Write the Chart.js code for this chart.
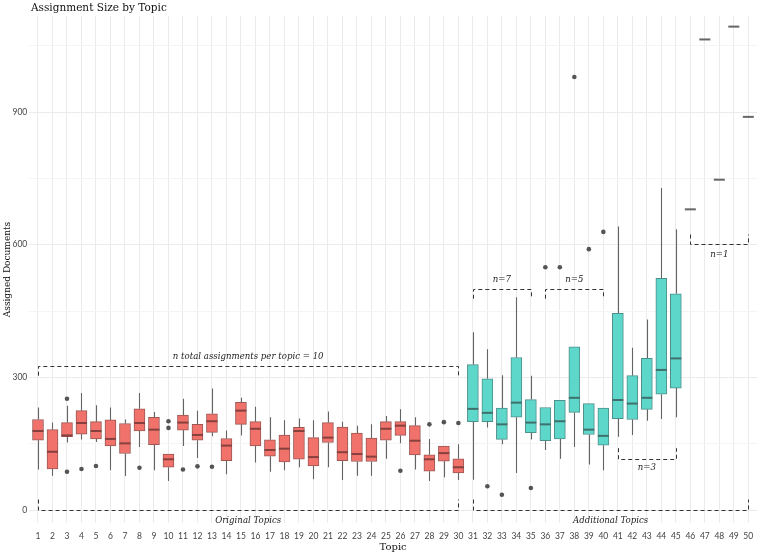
<!DOCTYPE html>
<html>
<head>
<meta charset="utf-8">
<script src="https://cdn.jsdelivr.net/npm/chart.js@4.4.0/dist/chart.umd.min.js"></script>
<style>
  html, body { margin:0; padding:0; background:#fff; }
  #wrap { width:761px; height:552px; position:relative; }
</style>
</head>
<body>
<div id="wrap"><canvas id="chart"></canvas></div>
<script>
// one entry per topic
const topics = [1,2,3,4,5,6,7,8,9,10,11,12,13,14,15,16,17,18,19,20,21,22,23,24,25,
  26,27,28,29,30,31,32,33,34,35,36,37,38,39,40,41,42,43,44,45,46,47,48,49,50]
const lowWhisker = [92,78,153,160,154,90,77,143,90,66,145,118,167,81,169,108,87,90,97,70,
  97,68,78,78,116,151,92,66,74,68,69,187,149,84,160,136,116,143,103,90,166,170,202,206,210,
  680,1064,747,1093,889]
const q1 = [158,93,166,172,161,145,128,179,148,97,181,158,176,112,194,145,122,109,115,100,
  153,112,110,110,158,169,125,88,111,84,200,200,160,210,175,157,161,221,171,147,207,205,228,262,276,
  680,1064,747,1093,889]
const median = [179,132,169,197,179,161,151,197,182,115,198,170,201,146,225,184,136,139,179,120,
  164,131,127,121,184,191,157,115,129,97,229,220,194,243,198,194,201,254,182,168,249,241,254,317,343,
  680,1064,747,1093,889]
const q3 = [205,182,198,225,200,204,196,229,210,127,215,194,218,162,244,200,159,170,187,164,
  198,188,174,163,200,200,191,125,145,116,329,297,231,345,250,232,248,369,241,231,445,304,343,524,489,
  680,1064,747,1093,889]
const highWhisker = [232,198,236,265,237,232,205,265,222,127,252,225,275,180,254,234,210,203,207,203,
  223,200,191,194,213,228,210,161,145,149,402,364,305,481,304,232,248,369,241,231,641,367,431,728,635,
  680,1064,747,1093,889]
const outlierTopic = [3,3,4,5,8,10,10,11,12,13,26,28,29,30,32,33,35,36,37,38,39,40]
const outlierValue = [252,87,93,100,96,201,186,92,99,98,89,194,199,197,54,35,50,549,549,979,590,629]
const lastOriginal = 30

// dashed brackets [from topic, to topic, y, tick end y]
const brackets = [
  [1,30,326,304], [1,30,0,24], [31,50,0,24],
  [31,35,500,478], [36,40,500,478], [41,45,116,140], [46,50,601,623]
]
// labels [text, topic position, y, pixel shift]
const notes = [
  ['n total assignments per topic = 10',15.5,326,-9],
  ['Original Topics',15.5,0,11],
  ['Additional Topics',40.5,0,11],
  ['n=7',33,500,-9],
  ['n=5',38,500,-9],
  ['n=3',43,116,9],
  ['n=1',48,601,10]
]

const RED = '#F1716B', TEAL = '#5ED7CB'
const EDGE_RED = '#9A5855', EDGE_TEAL = '#4F8F8A'
const SERIF = '"DejaVu Serif", serif'
const SANS = 'Lato, "Open Sans", sans-serif'

const boxPlugin = {
  id:'boxes',
  beforeDatasetsDraw(chart) {
    const {ctx, scales:{x, y}} = chart
    ctx.save()
    ctx.strokeStyle = '#646464'
    ctx.lineWidth = 1.1
    topics.forEach((t,i) => {
      const px = Math.round(x.getPixelForValue(t)) + 0.5
      ctx.beginPath()
      ctx.moveTo(px, y.getPixelForValue(lowWhisker[i]))
      ctx.lineTo(px, y.getPixelForValue(q1[i]))
      ctx.moveTo(px, y.getPixelForValue(q3[i]))
      ctx.lineTo(px, y.getPixelForValue(highWhisker[i]))
      ctx.stroke()
    })
    ctx.restore()
  },
  afterDatasetsDraw(chart) {
    const {ctx, scales:{x, y}} = chart
    ctx.save()
    ctx.lineWidth = 2
    topics.forEach((t,i) => {
      const px = x.getPixelForValue(t)
      const py = y.getPixelForValue(median[i])
      ctx.strokeStyle = t <= lastOriginal ? '#86413E' : (t <= 45 ? '#3F706B' : '#666')
      ctx.beginPath()
      ctx.moveTo(px - 5.5, py)
      ctx.lineTo(px + 5.5, py)
      ctx.stroke()
    })
    ctx.restore()
  },
  afterDraw(chart) {
    const {ctx, scales:{x, y}} = chart
    ctx.save()
    ctx.strokeStyle = '#333'
    ctx.lineWidth = 1
    ctx.setLineDash([4,3])
    brackets.forEach(([a,b,v,tv]) => {
      const x1 = Math.round(x.getPixelForValue(a)) + 0.5
      const x2 = Math.round(x.getPixelForValue(b)) + 0.5
      const py = Math.round(y.getPixelForValue(v)) + 0.5
      const ty = y.getPixelForValue(tv)
      ctx.beginPath()
      ctx.moveTo(x1, ty); ctx.lineTo(x1, py); ctx.lineTo(x2, py); ctx.lineTo(x2, ty)
      ctx.stroke()
    })
    ctx.setLineDash([])
    ctx.fillStyle = '#222'
    ctx.font = 'italic 8.6px ' + SERIF
    ctx.textAlign = 'center'
    ctx.textBaseline = 'middle'
    notes.forEach(([txt,t,v,dy]) => {
      ctx.fillText(txt, x.getPixelForValue(t), y.getPixelForValue(v) + dy)
    })
    ctx.font = '10.5px ' + SERIF
    ctx.fillStyle = '#111'
    ctx.textAlign = 'left'
    ctx.fillText('Assignment Size by Topic', 31, 8)
    ctx.restore()
  }
}

const boxData = []
topics.forEach((t,i) => { if (q3[i] > q1[i]) boxData.push({x:t, y:[q1[i], q3[i]]}) })

new Chart(document.getElementById('chart'), {
  type:'bar',
  data:{
    datasets:[
      {
        type:'scatter', label:'outliers', order:0,
        data: outlierTopic.map((t,i) => ({x:t, y:outlierValue[i]})),
        backgroundColor:'#555', borderWidth:0, pointRadius:2.3
      },
      {
        label:'boxes', order:1, data:boxData, barThickness:11,
        backgroundColor: c => c.raw && c.raw.x <= lastOriginal ? RED : TEAL,
        borderColor: c => c.raw && c.raw.x <= lastOriginal ? EDGE_RED : EDGE_TEAL,
        borderWidth:1, borderSkipped:false
      }
    ]
  },
  options:{
    responsive:true, maintainAspectRatio:false, animation:false, events:[],
    layout:{ padding:{ top:16, right:0, left:0, bottom:0 } },
    plugins:{ legend:{display:false}, tooltip:{enabled:false}, title:{display:false} },
    scales:{
      x:{
        type:'linear', min:0.4, max:50.6, offset:false,
        afterBuildTicks: s => { s.ticks = topics.map(v => ({value:v})) },
        afterFit: s => { s.height = 29; s.paddingLeft = 0; s.paddingRight = 0 },
        grid:{ color:'#EBEBEB', drawTicks:false, offset:false },
        border:{ display:false },
        ticks:{ autoSkip:false, maxRotation:0, padding:8, color:'#444', font:{family:SANS, size:8.5},
          callback: v => v },
        title:{ display:true, text:'Topic', color:'#111', padding:{top:0,bottom:0},
          font:{family:SERIF, size:10, lineHeight:1} }
      },
      y:{
        min:-29, max:1117,
        afterBuildTicks: s => { s.ticks = [0,150,300,450,600,750,900,1050].map(v => ({value:v})) },
        afterFit: s => { s.width = 29.3; s.paddingTop = 0; s.paddingBottom = 0 },
        grid:{ color: c => c.tick && c.tick.value % 300 === 0 ? '#EBEBEB' : '#F4F4F4', drawTicks:false },
        border:{ display:false },
        ticks:{ padding:2, color:'#444', font:{family:SANS, size:8.5},
          callback: v => v % 300 === 0 ? v : '' },
        title:{ display:true, text:'Assigned Documents', color:'#111', padding:{top:3,bottom:0},
          font:{family:SERIF, size:9, lineHeight:1} }
      }
    }
  },
  plugins:[boxPlugin]
})
</script>
</body>
</html>
